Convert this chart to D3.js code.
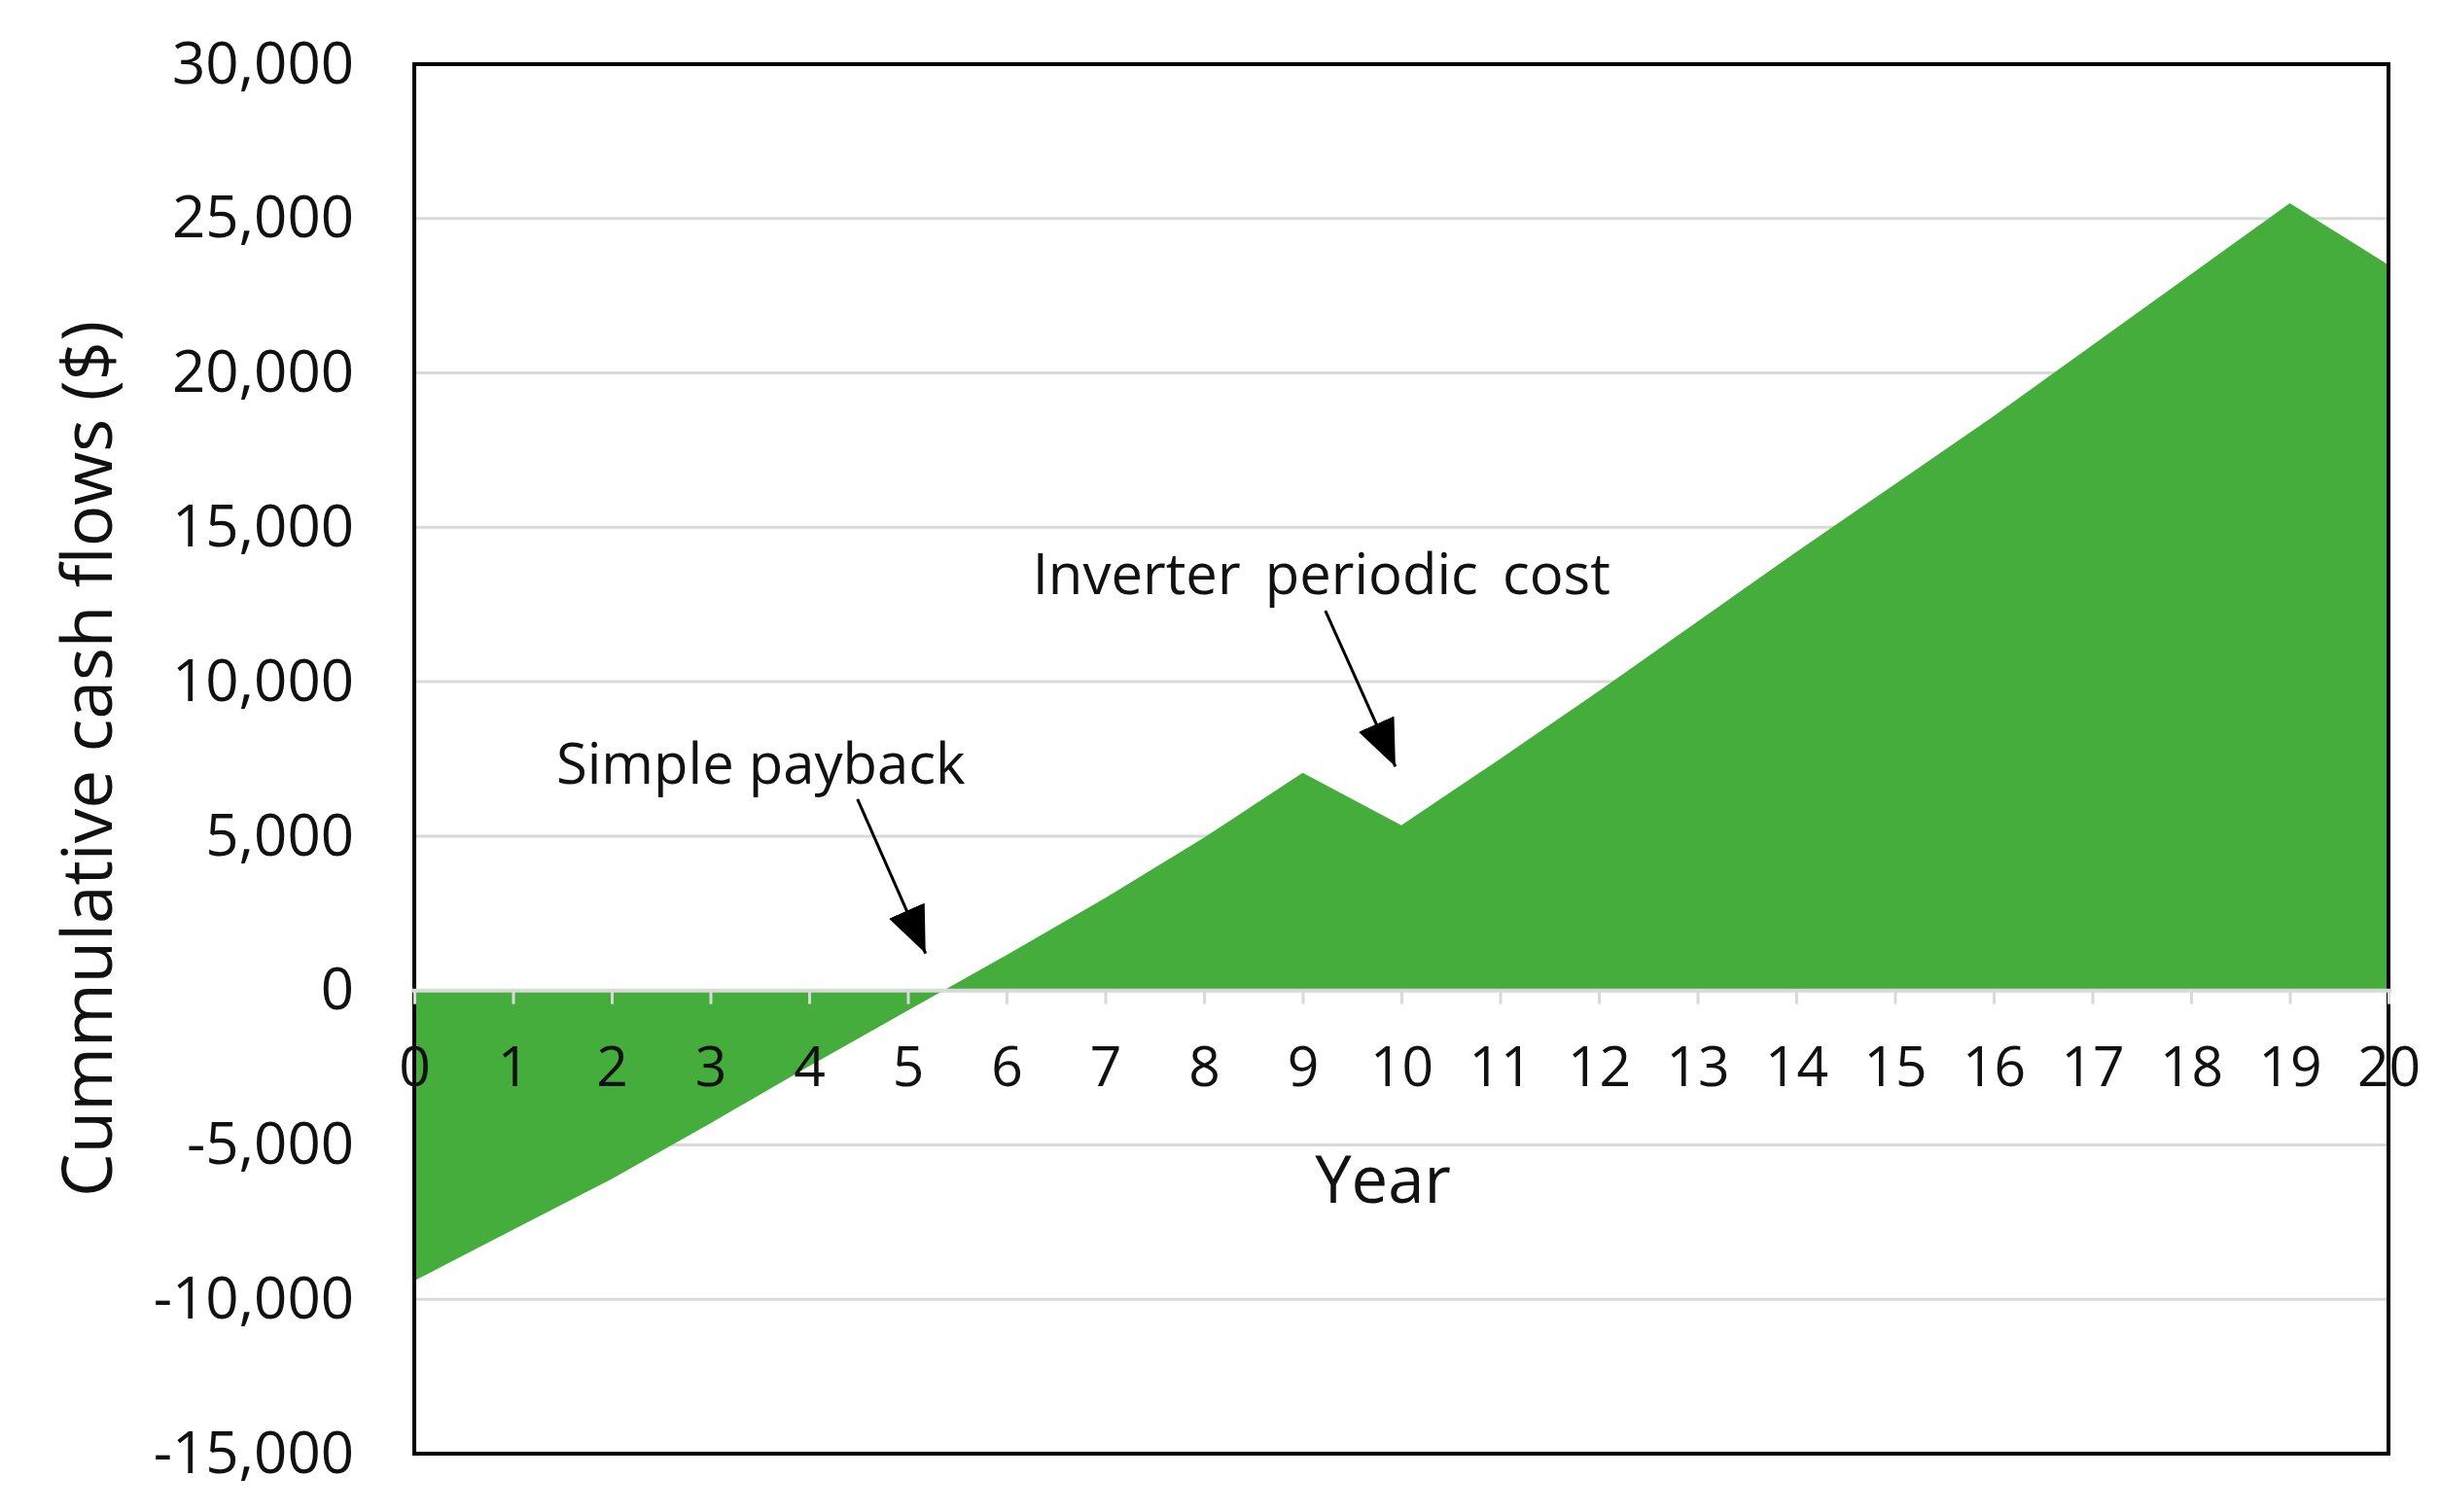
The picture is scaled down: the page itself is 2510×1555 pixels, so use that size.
<!DOCTYPE html>
<html>
<head>
<meta charset="utf-8">
<script src="https://cdn.jsdelivr.net/npm/d3@7"></script>
<style>
    body { margin: 0; background: #fff; }
    text { font-family: 'Open Sans', 'Noto Sans', sans-serif; fill: #111; }
</style>
</head>
<body>
<div id="chart"></div>
<script>
// Cumulative cash flows per year
const years = [0, 1, 2, 3, 4, 5, 6, 7, 8, 9, 10, 11, 12, 13, 14, 15, 16, 17, 18, 19, 20];
const cashFlows = [-9400, -7750, -6100, -4300, -2450, -650, 1150, 3000, 4950, 7050,
    5350, 7500, 9700, 11950, 14200, 16400, 18600, 20900, 23200, 25500, 23500];
const yTicks = [-15000, -10000, -5000, 0, 5000, 10000, 15000, 20000, 25000, 30000];

// Annotations, in data units (year, $)
const notes = [
    { label: 'Simple payback', tx: 3.51, ty: 6700, from: [4.49, 6200], to: [5.18, 1200] },
    { label: 'Inverter periodic cost', tx: 9.19, ty: 12850, from: [9.23, 12300], to: [9.94, 7250] }
];

const width = 2510, height = 1555;
const margin = { top: 66, right: 54, bottom: 60, left: 426 };

const svg = d3.select('#chart')
    .append('svg')
    .attr('width', width)
    .attr('height', height);

const x = d3.scaleLinear().domain([0, 20]).range([margin.left, width - margin.right]);
const y = d3.scaleLinear().domain([-15000, 30000]).range([height - margin.bottom, margin.top]);

// Gridlines
svg.append('g')
    .selectAll('line')
    .data(yTicks)
    .join('line')
    .attr('x1', x(0)).attr('x2', x(20))
    .attr('y1', d => y(d)).attr('y2', d => y(d))
    .attr('stroke', '#d9d9d9')
    .attr('stroke-width', 3);

// Area
const area = d3.area()
    .x((d, i) => x(years[i]))
    .y0(y(0))
    .y1(d => y(d));

svg.append('path')
    .datum(cashFlows)
    .attr('d', area)
    .attr('fill', '#44ad3b');

// Frame
svg.append('rect')
    .attr('x', x(0)).attr('y', y(30000))
    .attr('width', x(20) - x(0))
    .attr('height', y(-15000) - y(30000))
    .attr('fill', 'none')
    .attr('stroke', '#000')
    .attr('stroke-width', 4);

// X axis on the zero line
const xAxis = svg.append('g')
    .attr('transform', `translate(0,${y(0)})`)
    .call(d3.axisBottom(x).tickValues(years).tickSize(14).tickPadding(44).tickSizeOuter(0));
xAxis.select('.domain')
    .attr('stroke', '#d9d9d9')
    .attr('stroke-width', 4)
    .attr('d', `M${x(0) - 3},0H${x(20) + 3}`);
xAxis.selectAll('.tick line').attr('stroke', '#d9d9d9').attr('stroke-width', 3);
xAxis.selectAll('.tick text')
    .attr('font-size', '57px')
    .attr('fill', '#111');

// Y axis labels
const yAxis = svg.append('g')
    .attr('transform', `translate(${x(0)},0)`)
    .call(d3.axisLeft(y).tickValues(yTicks).tickSize(0).tickPadding(62).tickFormat(d3.format(',')));
yAxis.select('.domain').remove();
yAxis.selectAll('.tick text')
    .attr('font-size', '60px')
    .attr('fill', '#111')
    .text(d => d < 0 ? '-' + d3.format(',')(-d) : d3.format(',')(d));

// Axis titles
svg.append('text')
    .attr('x', 1422).attr('y', 1237)
    .attr('text-anchor', 'middle')
    .attr('font-size', '67px')
    .text('Year');

svg.append('text')
    .attr('transform', `translate(90,${(y(30000) + y(-15000)) / 2}) rotate(-90)`)
    .attr('text-anchor', 'middle')
    .attr('dy', '0.35em')
    .attr('font-size', '71px')
    .text('Cummulative cash flows ($)');

// Arrow marker
svg.append('defs').append('marker')
    .attr('id', 'head')
    .attr('markerUnits', 'userSpaceOnUse')
    .attr('viewBox', '0 0 48 40')
    .attr('refX', 48).attr('refY', 20)
    .attr('markerWidth', 48).attr('markerHeight', 40)
    .attr('orient', 'auto')
    .append('path')
    .attr('d', 'M0,0L48,20L0,40Z')
    .attr('fill', '#000');

// Annotations
const ann = svg.append('g');
notes.forEach(n => {
    ann.append('text')
        .attr('x', x(n.tx)).attr('y', y(n.ty))
        .attr('text-anchor', 'middle')
        .attr('font-size', '58px')
        .style('word-spacing', n.label.startsWith('Inverter') ? '10px' : '0px')
        .text(n.label);
    ann.append('line')
        .attr('x1', x(n.from[0])).attr('y1', y(n.from[1]))
        .attr('x2', x(n.to[0])).attr('y2', y(n.to[1]))
        .attr('stroke', '#000')
        .attr('stroke-width', 3)
        .attr('marker-end', 'url(#head)');
});
</script>
</body>
</html>
